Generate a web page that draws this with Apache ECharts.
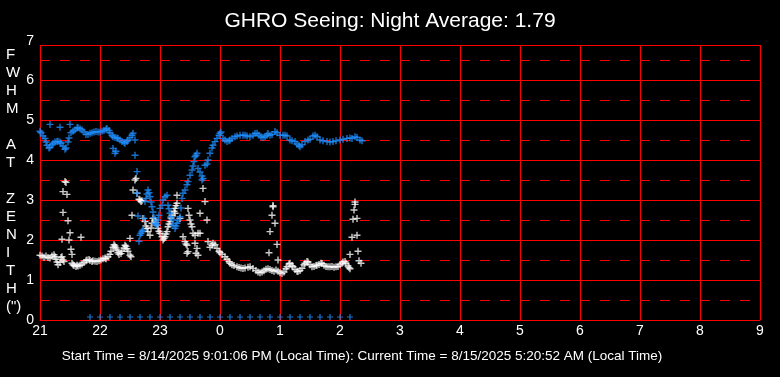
<!DOCTYPE html>
<html>
<head>
<meta charset="utf-8">
<script src="https://cdn.jsdelivr.net/npm/echarts@6/dist/echarts.min.js"></script>
<style>
  html, body { margin: 0; padding: 0; background: #000; }
  #chart { width: 780px; height: 377px; }
</style>
</head>
<body>
<div id="chart"></div>
<script>
// minutes after 21:00, FWHM in arcsec
const tickLabels = ['21', '22', '23', '0', '1', '2', '3', '4', '5', '6', '7', '8', '9'];

const whiteSeeing = [
  [0,1.62],[2,1.6],[4,1.57],[6,1.6],[8,1.56],[10,1.55],[12,1.6],[14,1.63],[15,1.58],[16,1.52],[17,1.45],[18,1.38],[20,1.44],[21,1.56],[22,1.58],[23,1.5],[24,1.46],
  [32,1.42],[33,1.38],[34,1.36],[36,1.34],[37,1.37],[38,1.35],[40,1.37],[42,1.4],[44,1.44],[46,1.48],[47,1.5],[49,1.51],[50,1.49],[52,1.46],[53,1.48],[55,1.47],[57,1.46],[59,1.48],[61,1.5],[63,1.53],[65,1.55],[66,1.53],[68,1.58],[70,1.64],[71,1.72],[73,1.82],[74,1.88],[75,1.85],[76,1.8],[77,1.75],[78,1.68],[79,1.64],[81,1.66],[82,1.72],[84,1.8],[85,1.87],[86,1.84],[87,1.78],[88,1.72],[90,1.62],[91,1.58],
  [22,2.02],[23,3.21],[23,2.69],[25,3.46],[26,3.44],[27,3.14],[28,2.48],[29,2.0],[30,2.18],[31,1.77],[32,1.64],[41,2.07],
  [90,2.04],[92,2.62],[93,3.25],[95,3.5],[96,3.54],[97,3.17],[99,3.02],[100,3.0],[101,2.96],[102,2.98],[103,2.54],[105,2.46],[106,2.35],[107,2.29],[108,2.21],[110,2.12],[111,2.3],[112,2.42],[113,2.54],[115,2.5],[116,2.44],[117,2.37],[118,2.29],[119,2.22],[120,2.17],[122,2.08],[123,2.0],[124,2.04],[125,2.08],[126,2.15],[127,2.21],[128,2.33],[129,2.4],[130,2.46],[131,2.55],[132,2.62],[134,2.72],[135,2.79],[136,2.86],[137,2.92],[137,3.12],[135,2.67],[140,2.54],[143,2.08],[145,1.96],[146,1.9],[147,1.87],[148,1.71],[147,1.67],
  [148,2.79],[149,2.62],[150,2.5],[151,2.4],[152,2.33],[153,2.17],[155,2.12],[158,2.17],[155,1.92],[157,1.79],[158,1.62],[156,1.67],[160,2.67],[163,3.29],[165,2.96],[160,2.17],[167,2.5],[168,1.96],
  [170,1.82],[172,1.87],[173,1.92],[175,1.88],[177,1.79],[179,1.72],[180,1.68],[182,1.64],[185,1.58],[187,1.52],[189,1.46],[190,1.42],[192,1.38],[194,1.36],[197,1.33],[199,1.31],[201,1.3],[203,1.29],[205,1.3],[208,1.32],[210,1.33],[213,1.29],[216,1.24],[218,1.2],[220,1.18],[222,1.2],[224,1.23],[226,1.27],[228,1.28],[230,1.26],[232,1.24],[234,1.22],[236,1.25],[238,1.22],[240,1.18],[242,1.16],
  [244,1.2],[246,1.28],[247,1.33],[249,1.4],[250,1.42],[252,1.36],[253,1.33],[255,1.26],[257,1.22],[258,1.21],[260,1.24],[262,1.29],[264,1.38],[265,1.42],[267,1.46],[268,1.45],[270,1.38],[272,1.33],[274,1.34],[276,1.36],[277,1.37],[279,1.39],[281,1.42],[282,1.41],[284,1.37],[286,1.34],[288,1.33],[290,1.33],[292,1.34],[294,1.32],[296,1.33],[298,1.34],[300,1.38],[302,1.42],[303,1.45],[305,1.46],[306,1.42],[308,1.35],[309,1.31],[310,1.28],
  [229,1.68],[230,2.21],[232,2.62],[233,2.83],[233,2.86],[235,2.42],[237,1.89],[238,1.5],
  [310,1.64],[312,2.07],[313,2.52],[314,2.75],[315,2.89],[315,2.95],[317,2.54],[317,2.12],[318,1.72],[319,1.48],[321,1.42]
];

const blueSeeing = [
  [0,4.72],[1,4.68],[3,4.6],[5,4.54],[6,4.45],[7,4.37],[9,4.3],[10,4.32],[12,4.38],[13,4.42],[15,4.45],[17,4.46],[18,4.47],[20,4.45],[21,4.42],[23,4.35],[25,4.27],[26,4.3],[28,4.45],[29,4.55],[31,4.68],[33,4.72],[35,4.75],[37,4.8],[38,4.81],[40,4.78],[42,4.75],[44,4.7],[46,4.64],[48,4.64],[50,4.67],[52,4.68],[54,4.7],[56,4.71],[58,4.7],[60,4.7],[62,4.72],[64,4.74],[66,4.77],[67,4.79],[69,4.74],[70,4.68],[72,4.62],[73,4.58],[75,4.56],[77,4.55],[78,4.54],[80,4.5],[82,4.46],[84,4.44],[85,4.42],[87,4.46],[88,4.5],[90,4.56],[92,4.62],[93,4.67],
  [10,4.89],[20,4.82],[30,4.89],[73,4.29],[75,4.17],[76,4.22],[95,4.5],[95,4.12],[97,3.71],
  [97,3.17],[98,2.6],[99,1.97],[100,2.12],[101,2.17],[102,2.22],[103,2.25],[104,2.54],[105,2.96],[106,3.04],[107,3.15],[108,3.25],[109,3.18],[110,3.08],[111,2.95],[112,2.83],[113,2.7],[114,2.56],[115,2.42],[116,2.4],[117,2.37],[118,2.5],[119,2.62],[120,2.79],[122,2.87],[123,3.0],[125,3.08],[127,3.12],[128,2.87],[129,2.78],[130,2.67],[131,2.58],[132,2.5],[133,2.37],[135,2.29],[136,2.35],[137,2.42],[138,2.5],[140,2.58],[141,2.8],[142,3.04],[143,3.17],[145,3.25],[147,3.38],[148,3.46],[150,3.62],[152,3.75],[153,3.85],[154,3.96],[155,4.08],[156,4.12],[157,4.17],[158,3.79],[160,3.7],[162,3.6],[162,3.5],[163,3.54],[165,3.87],[167,3.9],[168,4.0],[170,4.17],[172,4.3],[173,4.37],[175,4.46],[177,4.54],[179,4.62],[180,4.67],[181,4.7],[183,4.54],[185,4.5],[187,4.46],[189,4.48],[190,4.5],[192,4.54],[195,4.58],[197,4.6],[200,4.62],[203,4.62],[205,4.62],[207,4.6],[210,4.58],[213,4.62],[215,4.66],[217,4.67],[219,4.62],[221,4.58],[223,4.56],[225,4.58],[227,4.62],[228,4.66],[230,4.62],[232,4.64],[235,4.71],[237,4.68],[240,4.62],[243,4.62],[245,4.62],[247,4.6],[250,4.5],[252,4.48],[255,4.46],[257,4.4],[259,4.36],[260,4.33],[262,4.38],[265,4.46],[268,4.5],[270,4.52],[273,4.6],[275,4.62],[277,4.58],[280,4.5],[283,4.48],[287,4.46],[290,4.45],[293,4.46],[296,4.48],[300,4.5],[303,4.52],[307,4.54],[310,4.55],[312,4.54],[315,4.58],[317,4.56],[320,4.5],[322,4.48]
];

// blue readings logged as zero
const blueZeroTimes = [50,60,70,80,90,100,110,120,130,140,150,160,170,180,190,200,210,220,230,240,250,260,270,280,290,300,310];

const titleText = 'GHRO Seeing: Night Average: 1.79';
const footerText = 'Start Time = 8/14/2025 9:01:06 PM (Local Time): Current Time = 8/15/2025 5:20:52 AM (Local Time)';
const yName = ['F', 'W', 'H', 'M', '', 'A', 'T', '', 'Z', 'E', 'N', 'I', 'T', 'H', '(")'];

const plus = 'path://M2.8,0h1.4v2.8h2.8v1.4h-2.8v2.8h-1.4v-2.8h-2.8v-1.4h2.8z';
const red = '#ff0000';
const font = 'Liberation Sans, Arial, sans-serif';

let myChart = echarts.init(document.getElementById('chart'));

const option = {
  backgroundColor: '#000',
  animation: false,
  title: {
    text: titleText,
    left: 'center',
    top: 6,
    textStyle: { color: '#fff', fontSize: 21, fontWeight: 'normal', fontFamily: font }
  },
  grid: { left: 40, right: 20, top: 45, bottom: 57 },
  xAxis: {
    type: 'value',
    min: 0,
    max: 720,
    interval: 60,
    axisLine: { show: true, lineStyle: { color: red, width: 1 } },
    axisTick: { show: false },
    axisLabel: {
      color: '#fff',
      fontSize: 14,
      fontFamily: font,
      margin: 4,
      formatter: function (v) { return tickLabels[Math.round(v / 60)]; }
    },
    splitLine: { show: true, lineStyle: { color: red, width: 1 } }
  },
  yAxis: [
    {
      // dashed half lines
      type: 'value',
      min: 0,
      max: 6.875,
      interval: 0.5,
      axisLine: { show: false },
      axisTick: { show: false },
      axisLabel: { show: false },
      splitLine: { show: true, lineStyle: { color: red, width: 1, type: [10, 10] } }
    },
    {
      type: 'value',
      min: 0,
      max: 6.875,
      interval: 1,
      position: 'left',
      axisLine: { show: false },
      axisTick: { show: false },
      axisLabel: {
        color: '#fff',
        fontSize: 14,
        fontFamily: font,
        margin: 6,
        formatter: function (v) { return v > 6.5 ? '{t|7}' : String(v); },
        rich: { t: { color: '#fff', fontSize: 14, fontFamily: font, padding: [0, 0, 7, 0] } }
      },
      splitLine: { show: true, lineStyle: { color: red, width: 1 } }
    }
  ],
  graphic: [
    {
      type: 'text',
      left: 6,
      top: 46,
      style: {
        text: yName.join('\n'),
        fill: '#fff',
        font: '15px ' + font,
        lineHeight: 18,
        align: 'center',
        width: 14
      }
    },
    {
      type: 'text',
      x: 362,
      y: 356,
      style: {
        text: footerText,
        fill: '#fff',
        font: '13.5px ' + font,
        align: 'center',
        verticalAlign: 'middle'
      }
    }
  ],
  series: [
    {
      name: 'white',
      type: 'scatter',
      yAxisIndex: 1,
      symbol: plus,
      symbolSize: 7,
      itemStyle: { color: '#ffffff' },
      data: whiteSeeing
    },
    {
      name: 'blue',
      type: 'scatter',
      yAxisIndex: 1,
      symbol: plus,
      symbolSize: 7,
      itemStyle: { color: '#1e8fff' },
      data: blueSeeing
    },
    {
      name: 'blueZero',
      type: 'scatter',
      yAxisIndex: 1,
      symbol: plus,
      symbolSize: 6,
      symbolOffset: [0, -3],
      itemStyle: { color: '#1e8fff' },
      data: blueZeroTimes.map(function (t) { return [t, 0]; })
    }
  ]
};

myChart.setOption(option);
window.addEventListener('resize', function () {
  myChart.resize();
});
</script>
</body>
</html>
